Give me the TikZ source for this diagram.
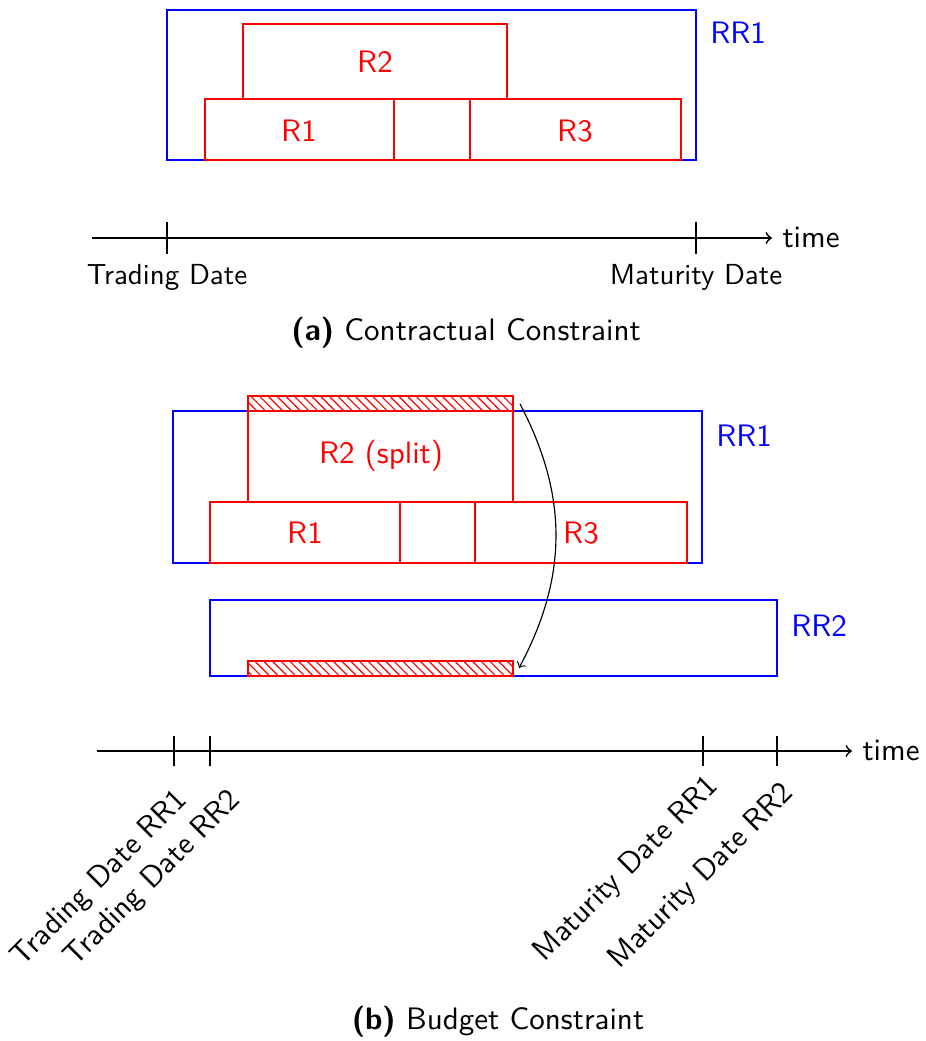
\documentclass[tikz,border=0pt]{standalone}
\usepackage{fontspec}
\usepackage{tikz}
\usetikzlibrary{patterns,positioning}
\renewcommand{\familydefault}{\sfdefault}
\tikzset{
  every node/.style={font=\fontsize{10.7}{13}\selectfont},
  rrbox/.style={draw=blue,semithick},
  reqbox/.style={draw=red,semithick},
  hatchbox/.style={draw=red,semithick,pattern=north west lines,pattern color=red},
  reqtext/.style={text=red},
  rrtext/.style={text=blue,anchor=west},
  ticktext/.style={font=\fontsize{10}{12}\selectfont},
  datetext/.style={anchor=base west,rotate=45,inner sep=0pt,font=\fontsize{10.6}{12.5}\selectfont},
}

\begin{document}
\begin{tikzpicture}[x=0.345pt,y=-0.345pt]
        \useasboundingbox (0,0) rectangle (925,1041);
        % (a) contractual constraint
        \draw[rrbox] (167,10) coordinate (a0) rectangle (696,160) coordinate (a1);
        \node[rrtext] (aRR1) at (700,33) {RR1};
        \draw[reqbox] (243,24) rectangle (507,99);
        \draw[reqbox] (205,99) rectangle (394,160);
        \draw[reqbox] (394,99) rectangle (470,160);
        \draw[reqbox] (470,99) rectangle (681,160);
        \node[reqtext] (aR2) at (375,62) {R2};
        \node[reqtext] (aR1) at (299,131) {R1};
        \node[reqtext] (aR3) at (575,131) {R3};
        \draw[->,semithick] (92,238) coordinate (at0) -- (772,238) coordinate (at1) node[right] (atime) {time};
        \draw[semithick] (167,222) -- (167,254) coordinate (atd);
        \draw[semithick] (696,222) -- (696,254) coordinate (amd);
        \node[ticktext,below=0pt of atd] (aTD) {Trading Date};
        \node[ticktext,below=0pt of amd] (aMD) {Maturity Date};
        \node (capa) at (466,333) {\textbf{(a)} Contractual Constraint};
        % (b) budget constraint
        \draw[rrbox] (173,411) rectangle (702,563);
        \node[rrtext] (bRR1) at (706,436) {RR1};
        \draw[rrbox] (210,600) rectangle (777,676);
        \node[rrtext] (bRR2) at (781,626) {RR2};
        \draw[hatchbox] (248,396) rectangle (513,411);
        \draw[reqbox] (248,411) rectangle (513,502);
        \draw[reqbox] (210,502) rectangle (400,563);
        \draw[reqbox] (400,502) rectangle (475,563);
        \draw[reqbox] (475,502) rectangle (687,563);
        \draw[hatchbox] (248,661) rectangle (513,676);
        \node[reqtext] (bR2) at (381,456) {R2 (split)};
        \node[reqtext] (bR1) at (305,533) {R1};
        \node[reqtext] (bR3) at (581,533) {R3};
        \coordinate (splitfrom) at (520,404);
        \coordinate (splitto) at (519,668);
        \draw[->] (splitfrom) to[bend left=28] (splitto);
        \draw[->,semithick] (97,751) coordinate (bt0) -- (852,751) coordinate (bt1) node[right] (btime) {time};
        \foreach \tx/\tn in {174/tdA,210/tdB,703/mdA,777/mdB}
          \draw[semithick] (\tx,736) -- (\tx,766) coordinate (\tn);
        \node[datetext] (bTD1) at (22,968) {Trading Date RR1};
        \node[datetext] (bTD2) at (75,968) {Trading Date RR2};
        \node[datetext] (bMD1) at (544,963) {Maturity Date RR1};
        \node[datetext] (bMD2) at (619,970) {Maturity Date RR2};
        \node (capb) at (498,1022) {\textbf{(b)} Budget Constraint};
      \end{tikzpicture}
\end{document}
